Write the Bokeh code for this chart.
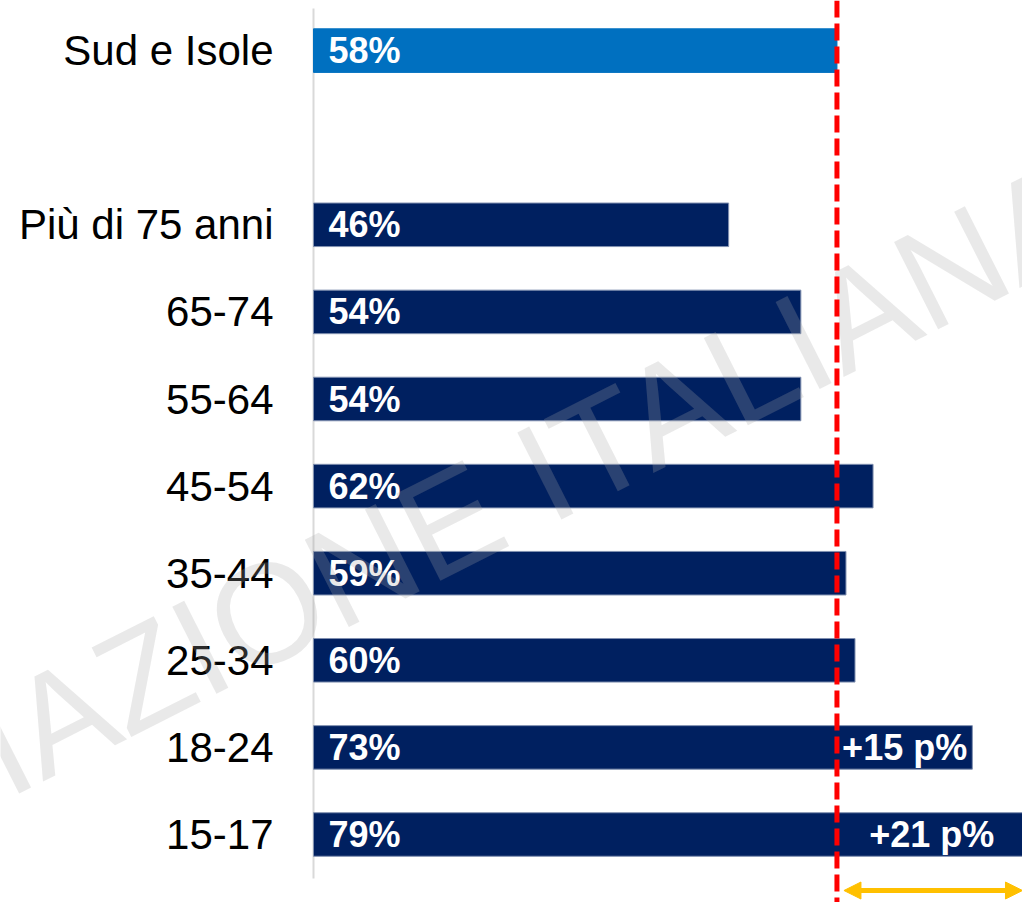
from bokeh.plotting import figure
from bokeh.models import ColumnDataSource, Range1d, Arrow, NormalHead, Span
from bokeh.core.properties import value
from bokeh.embed import file_html
from bokeh.resources import INLINE

# ---- data ----
age_groups = ["15-17", "18-24", "25-34", "35-44", "45-54", "55-64", "65-74", "Più di 75 anni"]
age_values = [79, 73, 60, 59, 62, 54, 54, 46]
region_groups = ["Sud e Isole"]
region_values = [58]
average = 58
highlight_groups = ["18-24", "15-17"]
watermark_left = "ASSOCI"
watermark_right = "AZIONE ITALIANA EDITORI"

NAVY = "#002060"
BLUE = "#0070C0"
FONT = value("Liberation Sans")

# ---- layout helpers ----
W, H = 1022, 902
PX_PER_X = 9.025     # pixels per percentage point
PX_PER_Y = 87.1      # pixels per row
ZERO_PX = 313        # x pixel of 0%
ROW0_PX = 834        # y pixel of the first row centre

x_start = -ZERO_PX / PX_PER_X
x_end = (W - ZERO_PX) / PX_PER_X
y_end = ROW0_PX / PX_PER_Y
y_start = -(H - ROW0_PX) / PX_PER_Y

def px_x(px):
    return (px - ZERO_PX) / PX_PER_X

def px_y(py):
    return (ROW0_PX - py) / PX_PER_Y

age_y = list(range(len(age_groups)))
region_y = [len(age_groups) + 1 + i for i in range(len(region_groups))]

p = figure(width=W, height=H, output_backend="svg", toolbar_location=None,
           x_range=Range1d(x_start, x_end), y_range=Range1d(y_start, y_end),
           x_axis_location=None, y_axis_location=None, min_border=0,
           outline_line_color=None, background_fill_color="white",
           border_fill_color="white")
p.grid.visible = False

age_src = ColumnDataSource(dict(y=age_y, v=age_values, cat=age_groups,
                                lab=[f"{v}%" for v in age_values]))
reg_src = ColumnDataSource(dict(y=region_y, v=region_values, cat=region_groups,
                                lab=[f"{v}%" for v in region_values]))

# vertical axis line
p.segment(x0=[0], x1=[0], y0=[px_y(878)], y1=[px_y(8)], line_color="#d9d9d9", line_width=2)

# bars
p.hbar(y="y", left=0, right="v", height=0.5, source=age_src,
       fill_color=NAVY, line_color="#8090b0", line_width=1)
p.hbar(y="y", left=0, right="v", height=0.5, source=reg_src,
       fill_color=BLUE, line_color=BLUE, line_width=1)

# value labels inside bars
lab_x = 15 / PX_PER_X
for src in (age_src, reg_src):
    p.text(x=lab_x, y="y", text="lab", source=src, text_align="left",
           text_baseline="middle", text_color="white", text_font=FONT,
           text_font_style="bold", text_font_size="36px")

# category labels
cat_x = -40 / PX_PER_X
for src in (age_src, reg_src):
    p.text(x=cat_x, y="y", text="cat", source=src, text_align="right",
           text_baseline="middle", text_color="black", text_font=FONT,
           text_font_size="42px")

# difference labels
hx, hy, ht = [], [], []
for g, v, y in zip(age_groups, age_values, age_y):
    if g in highlight_groups:
        hx.append((average + v) / 2)
        hy.append(y)
        ht.append(f"+{v - average} p%")
p.text(x=hx, y=hy, text=ht, text_align="center", text_baseline="middle",
       text_color="white", text_font=FONT, text_font_style="bold",
       text_font_size="36px")

# average dashed line
p.add_layout(Span(location=average, dimension="height", line_color="#ff0000",
                  line_dash="17 6", line_width=5))

# orange double arrow
arrow_y = px_y(890)
head = dict(size=17, fill_color="#ffc000", line_color="#ffc000", line_width=1)
p.add_layout(Arrow(start=NormalHead(**head), end=NormalHead(**head),
                   x_start=average + 7 / PX_PER_X, y_start=arrow_y,
                   x_end=max(age_values) - 4 / PX_PER_X, y_end=arrow_y,
                   line_color="#ffc000", line_width=5))

# watermark
wm_x = px_x(20)
wm_y = px_y(737)
ang = 0.468
p.text(x=[wm_x], y=[wm_y], text=[watermark_right], angle=ang, text_align="left",
       text_baseline="alphabetic", text_font=FONT, text_font_size="142px",
       text_color="#a6a6a6", text_alpha=0.25)
p.text(x=[wm_x], y=[wm_y], text=[watermark_left], angle=ang, text_align="right",
       text_baseline="alphabetic", text_font=FONT, text_font_size="142px",
       text_color="#a6a6a6", text_alpha=0.25)

open("out.html", "w").write(file_html(p, INLINE))
